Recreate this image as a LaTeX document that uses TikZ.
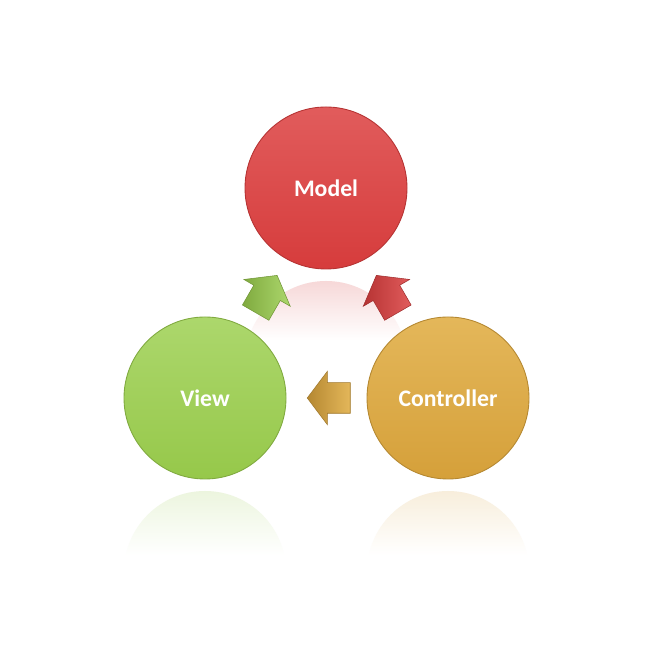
\documentclass[tikz,border=0pt]{standalone}
\usepackage{fontspec}
\setmainfont{Carlito}
\usepackage{xcolor}
\usetikzlibrary{shapes.arrows}
\usetikzlibrary{positioning}

\definecolor{modelred}{HTML}{D63C3C}
\definecolor{modelredlight}{HTML}{E15C5C}
\definecolor{viewgreen}{HTML}{96C84A}
\definecolor{viewgreenlight}{HTML}{ACD76C}
\definecolor{ctrlgold}{HTML}{D5A03A}
\definecolor{ctrlgoldlight}{HTML}{E4B75A}

\begin{document}
\begin{tikzpicture}
        \tikzstyle{ball}=[circle,minimum size=3.24cm,inner sep=0pt,line width=0.5pt,text=white,font=\fontsize{13.5}{16}\selectfont\bfseries]
        \tikzstyle{flow}=[single arrow,minimum height=0.86cm,inner xsep=0pt,inner ysep=0.3cm,single arrow head extend=0.23cm,single arrow tip angle=106,line width=0.3pt]
        \useasboundingbox[fill=white] (0,0) rectangle (13,13);
       % reflections
       \begin{scope}
         \clip (6.52,5.76) circle (1.62);
         \shade[top color=modelred!20,bottom color=white] (4.9,7.38) rectangle (8.14,6.2);
       \end{scope}
       \begin{scope}
         \clip (4.1,1.56) circle (1.62);
         \shade[top color=viewgreen!18,bottom color=white] (2.48,3.18) rectangle (5.72,1.9);
       \end{scope}
       \begin{scope}
         \clip (8.96,1.56) circle (1.62);
         \shade[top color=ctrlgold!18,bottom color=white] (7.34,3.18) rectangle (10.58,1.9);
       \end{scope}
       % circles
       \node [ball,top color=modelredlight,bottom color=modelred,draw=modelred!85!black] (model) at (6.52,9.24) {Model};
       \node [ball,top color=viewgreenlight,bottom color=viewgreen,draw=viewgreen!85!black] (view) at (4.1,5.04) {View};
       \node [ball,top color=ctrlgoldlight,bottom color=ctrlgold,draw=ctrlgold!85!black] (controller) at (8.96,5.04) {Controller};
       % arrows
       \node [flow,rotate=60,left color=viewgreen!85!black,right color=viewgreenlight,draw=viewgreen!75!black] (view2model) at (5.27,7.02) {};
       \node [flow,rotate=120,left color=modelred!85!black,right color=modelredlight,draw=modelred!75!black] (ctrl2model) at (7.80,7.02) {};
       \node [flow,rotate=180,left color=ctrlgold!85!black,right color=ctrlgoldlight,draw=ctrlgold!75!black] (ctrl2view) at (6.69,5.04) {};
\end{tikzpicture}
\end{document}
